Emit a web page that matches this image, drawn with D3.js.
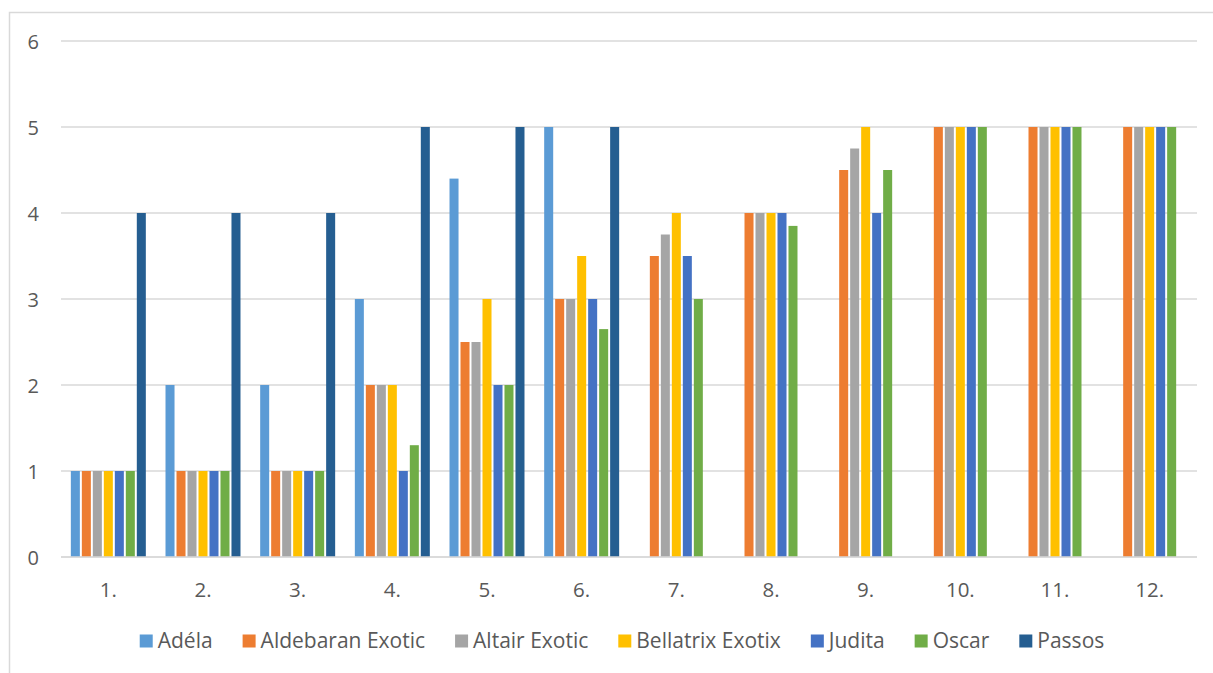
<!DOCTYPE html>
<html>
<head>
<meta charset="utf-8">
<script src="https://cdn.jsdelivr.net/npm/d3@7"></script>
<style>
  html, body { margin: 0; padding: 0; background: #ffffff; }
  svg { display: block; }
  text { font-family: "Open Sans", "Liberation Sans", sans-serif; fill: #595959; }
</style>
</head>
<body>
<svg id="chart" width="1213" height="673"></svg>
<script>
// Categories along the x axis
const categories = ["1.", "2.", "3.", "4.", "5.", "6.", "7.", "8.", "9.", "10.", "11.", "12."];

// Series names (legend order) and their colours
const seriesNames = ["Adéla", "Aldebaran Exotic", "Altair Exotic", "Bellatrix Exotix", "Judita", "Oscar", "Passos"];
const seriesColors = ["#5B9BD5", "#ED7D31", "#A5A5A5", "#FFC000", "#4472C4", "#70AD47", "#255E91"];

// Values per series, one per category (null = no bar)
const adela     = [1, 2, 2, 3, 4.4, 5, null, null, null, null, null, null];
const aldebaran = [1, 1, 1, 2, 2.5, 3, 3.5, 4, 4.5, 5, 5, 5];
const altair    = [1, 1, 1, 2, 2.5, 3, 3.75, 4, 4.75, 5, 5, 5];
const bellatrix = [1, 1, 1, 2, 3, 3.5, 4, 4, 5, 5, 5, 5];
const judita    = [1, 1, 1, 1, 2, 3, 3.5, 4, 4, 5, 5, 5];
const oscar     = [1, 1, 1, 1.3, 2, 2.65, 3, 3.85, 4.5, 5, 5, 5];
const passos    = [4, 4, 4, 5, 5, 5, null, null, null, null, null, null];

// Y axis ticks
const yTicks = [0, 1, 2, 3, 4, 5, 6];

const seriesValues = [adela, aldebaran, altair, bellatrix, judita, oscar, passos];

const svg = d3.select("#chart");

// Outer chart frame
svg.append("rect")
  .attr("x", 9.5).attr("y", 12.5)
  .attr("width", 1400).attr("height", 800)
  .attr("fill", "#ffffff")
  .attr("stroke", "#d9d9d9").attr("stroke-width", 1.5);

const plot = { left: 61, right: 1197, top: 41, bottom: 557 };

const y = d3.scaleLinear().domain([0, 6]).range([plot.bottom, plot.top]);

const x0 = d3.scaleBand().domain(categories).range([plot.left, plot.right]).padding(0);
const bw = x0.bandwidth();
const x1 = d3.scaleBand().domain(seriesNames)
  .range([bw * 0.0935, bw * 0.9065])
  .paddingInner(0.18).paddingOuter(0.09);

// Horizontal gridlines
svg.append("g")
  .selectAll("line")
  .data(yTicks)
  .join("line")
  .attr("x1", plot.left).attr("x2", plot.right)
  .attr("y1", d => y(d)).attr("y2", d => y(d))
  .attr("stroke", "#d9d9d9").attr("stroke-width", 1.5);

// Y tick labels
svg.append("g")
  .selectAll("text")
  .data(yTicks)
  .join("text")
  .attr("x", 39).attr("y", d => y(d))
  .attr("text-anchor", "end")
  .attr("dominant-baseline", "central")
  .attr("font-size", 20)
  .text(d => d);

// Bars
const rows = [];
seriesNames.forEach((name, si) => {
  categories.forEach((cat, ci) => {
    const v = seriesValues[si][ci];
    if (v !== null) rows.push({ name, cat, v, color: seriesColors[si] });
  });
});

svg.append("g")
  .selectAll("rect")
  .data(rows)
  .join("rect")
  .attr("x", d => x0(d.cat) + x1(d.name))
  .attr("y", d => y(d.v))
  .attr("width", x1.bandwidth())
  .attr("height", d => y(0) - y(d.v))
  .attr("fill", d => d.color);

// Baseline on top of bars
svg.append("line")
  .attr("x1", plot.left).attr("x2", plot.right)
  .attr("y1", y(0)).attr("y2", y(0))
  .attr("stroke", "#d9d9d9").attr("stroke-width", 1.5);

// X tick labels
svg.append("g")
  .selectAll("text")
  .data(categories)
  .join("text")
  .attr("x", d => x0(d) + bw / 2)
  .attr("y", 597)
  .attr("text-anchor", "middle")
  .attr("font-size", 20.5)
  .text(d => d);

// Legend
const legend = svg.append("g");
const items = legend.selectAll("g")
  .data(seriesNames)
  .join("g");
items.append("rect")
  .attr("width", 13).attr("height", 13)
  .attr("y", 634.5)
  .attr("fill", (d, i) => seriesColors[i]);
items.append("text")
  .attr("x", 18)
  .attr("y", 648)
  .attr("font-size", 21)
  .text(d => d);

const gap = 30;
let widths = [];
items.each(function () {
  widths.push(18 + d3.select(this).select("text").node().getComputedTextLength());
});
const total = d3.sum(widths) + gap * (widths.length - 1);
let cx = 622 - total / 2;
items.each(function (d, i) {
  d3.select(this).attr("transform", `translate(${cx},0)`);
  cx += widths[i] + gap;
});
</script>
</body>
</html>
